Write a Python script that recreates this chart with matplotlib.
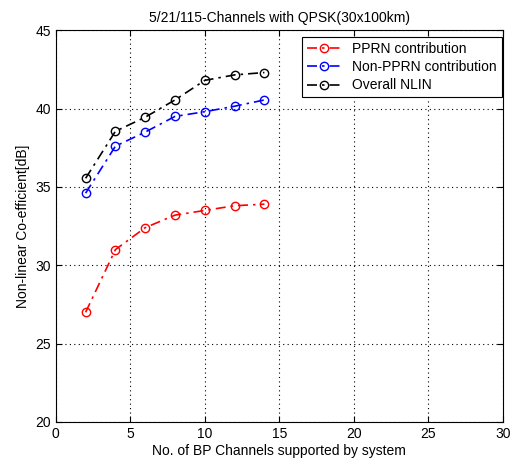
import matplotlib
matplotlib.use("Agg")
import matplotlib.pyplot as plt

plt.rcParams['font.family'] = ['Liberation Sans', 'DejaVu Sans']

channels = [2, 4, 6, 8, 10, 12, 14]
pprn = [27.0, 31.0, 32.4, 33.2, 33.5, 33.8, 33.9]
non_pprn = [34.6, 37.6, 38.5, 39.5, 39.8, 40.15, 40.55]
overall = [35.55, 38.55, 39.45, 40.55, 41.8, 42.15, 42.3]

fig = plt.figure(figsize=(5.12, 4.65), dpi=100)
ax = fig.add_axes([0.109, 0.0925, 0.873, 0.8425])

for vals, col, lab in [(pprn, 'red', 'PPRN contribution'),
                       (non_pprn, 'blue', 'Non-PPRN contribution'),
                       (overall, 'black', 'Overall NLIN')]:
    ax.plot(channels, vals, linestyle=(0, (6, 3, 1.5, 3)), color=col, marker='o',
            markerfacecolor='none', markeredgecolor=col, markersize=6,
            linewidth=1.2, label=lab)

ax.set_xlim(0, 30)
ax.set_ylim(20, 45)
ax.set_xticks(range(0, 31, 5))
ax.set_yticks(range(20, 46, 5))
ax.grid(True, linestyle=(0, (1, 3)), color='black', linewidth=0.8)
ax.tick_params(direction='in', labelsize=10, length=4, top=True, right=True)
for s in ax.spines.values():
    s.set_color('black')

ax.set_title('5/21/115-Channels with QPSK(30x100km)', fontsize=10)
ax.set_xlabel('No. of BP Channels supported by system', fontsize=10, labelpad=2)
ax.set_ylabel('Non-linear Co-efficient[dB]', fontsize=10)

leg = ax.legend(loc='upper right', bbox_to_anchor=(0.998, 0.982), fontsize=10,
                fancybox=False, framealpha=1, edgecolor='black',
                borderaxespad=0, handlelength=2.5, labelspacing=0.3,
                borderpad=0.35)
leg.get_frame().set_linewidth(0.8)

fig.savefig('out.png', dpi=100)
